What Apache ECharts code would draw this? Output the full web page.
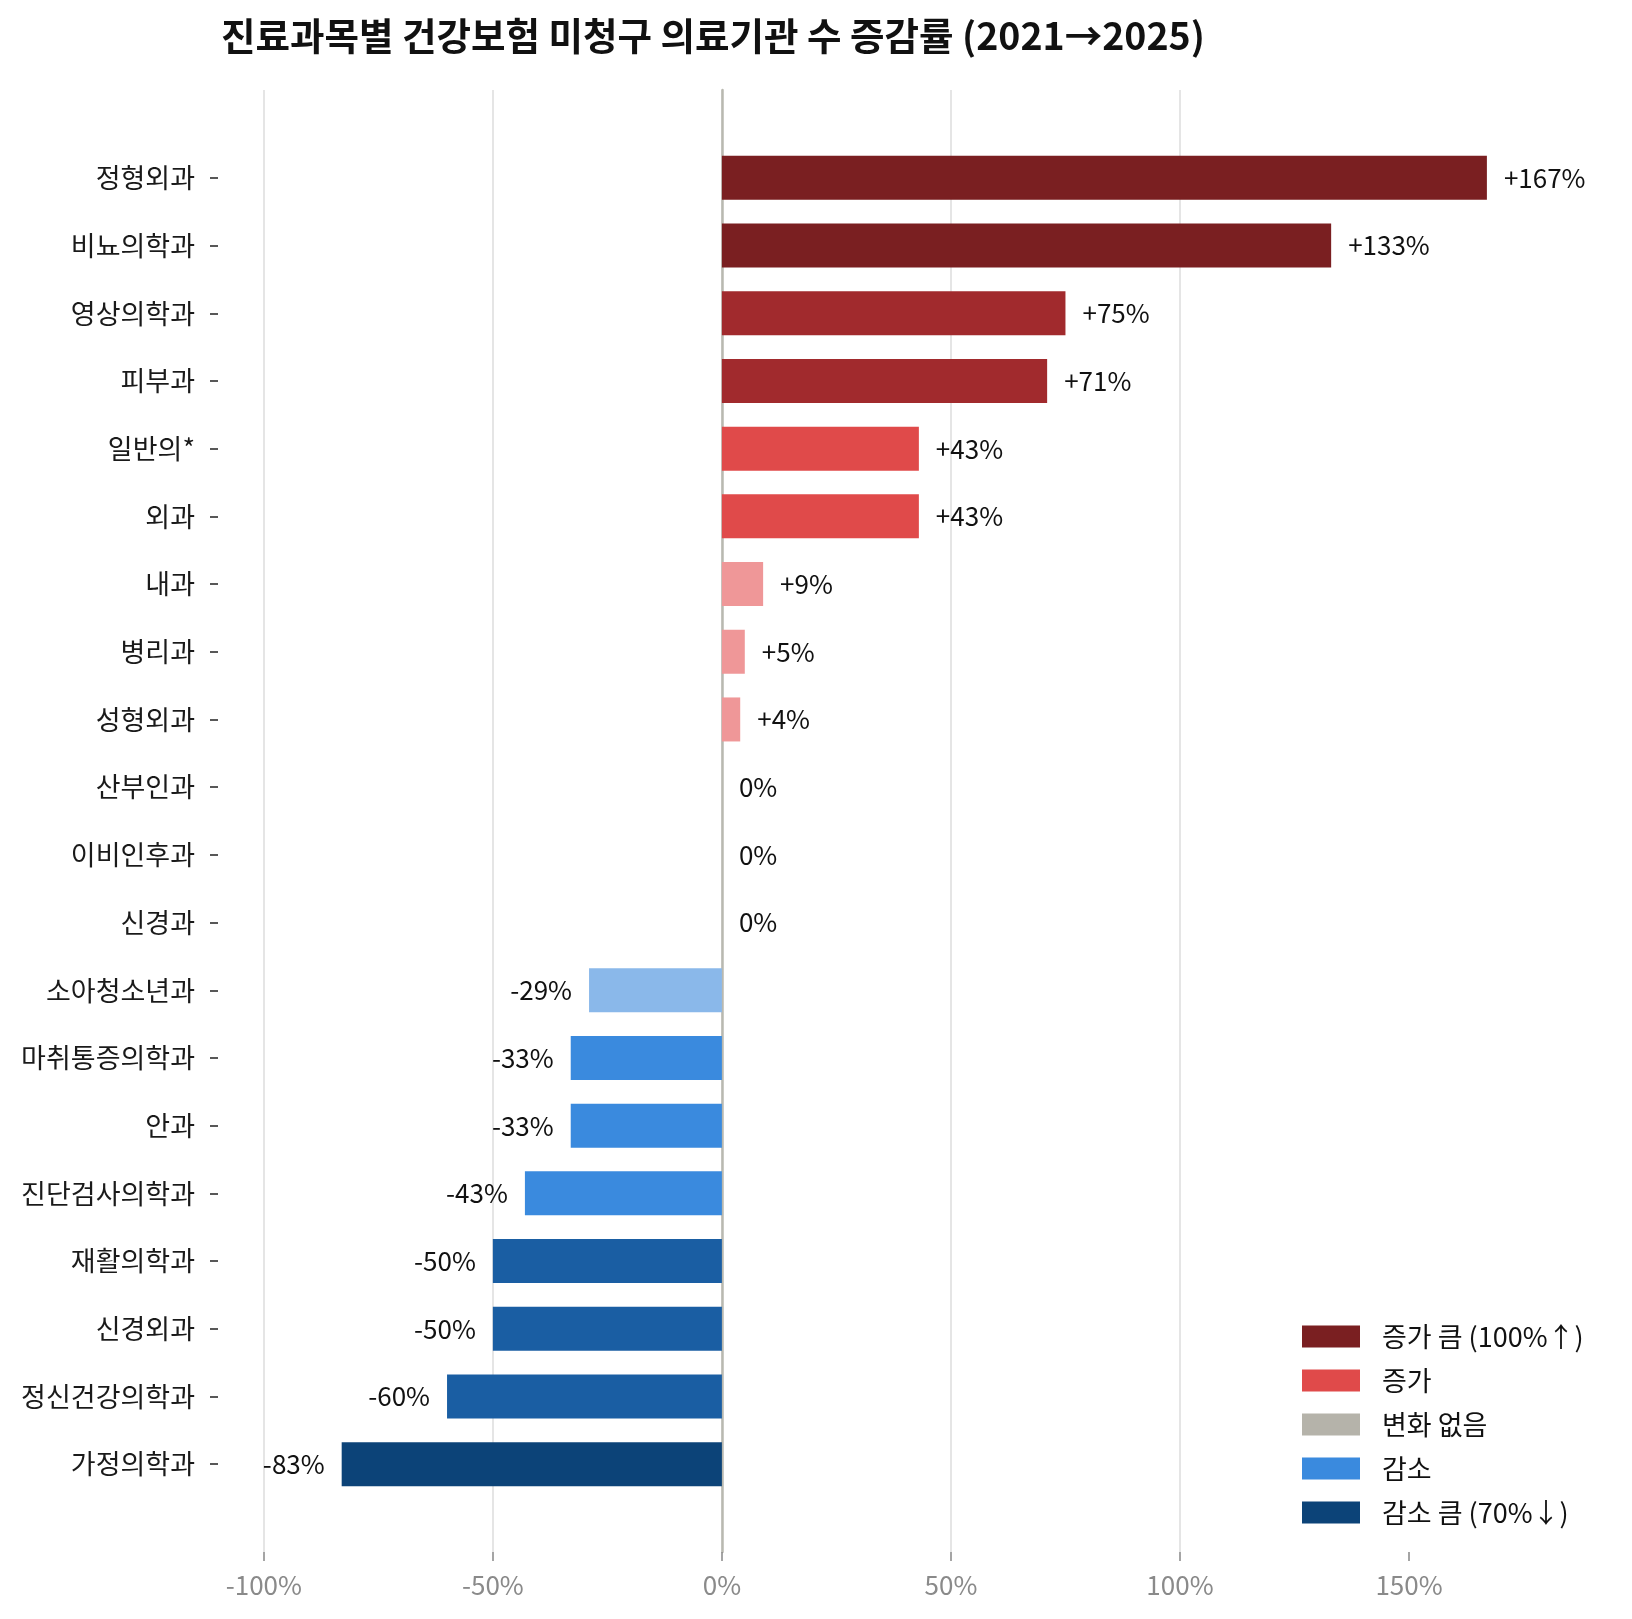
<!DOCTYPE html>
<html>
<head>
  <meta charset="utf-8">
  <title>진료과목별 증감률</title>
  <script src="https://cdn.jsdelivr.net/npm/echarts@6/dist/echarts.min.js"></script>
  <style>
    html, body { margin: 0; padding: 0; background: #fff; }
    #main { width: 1632px; height: 1619px; }
  </style>
</head>
<body>
<div id="main"></div>
<script type="text/javascript">
  // 진료과목 (위에서 아래 순서)
  var depts = ['정형외과', '비뇨의학과', '영상의학과', '피부과', '일반의*', '외과', '내과', '병리과', '성형외과',
    '산부인과', '이비인후과', '신경과', '소아청소년과', '마취통증의학과', '안과', '진단검사의학과',
    '재활의학과', '신경외과', '정신건강의학과', '가정의학과'];
  // 증감률 (%)
  var rates = [167, 133, 75, 71, 43, 43, 9, 5, 4, 0, 0, 0, -29, -33, -33, -43, -50, -50, -60, -83];
  var xTicks = [-100, -50, 0, 50, 100, 150];
  var legendNames = ['증가 큼 (100%↑)', '증가', '변화 없음', '감소', '감소 큼 (70%↓)'];
  var legendColors = ['#7a1f21', '#e04a4a', '#b5b3aa', '#3a8ade', '#0c4378'];

  var FONT = '"Noto Sans CJK KR", "Noto Sans", sans-serif';

  function colorFor(v) {
    if (v >= 100) return '#7a1f21';
    if (v >= 50) return '#a12a2d';
    if (v >= 20) return '#e04a4a';
    if (v > 0) return '#ef9798';
    if (v === 0) return '#b5b3aa';
    if (v > -30) return '#8ab8ea';
    if (v > -45) return '#3a8ade';
    if (v > -70) return '#1a5ea3';
    return '#0c4378';
  }

  var barData = rates.map(function (v) {
    return {
      value: v,
      itemStyle: { color: colorFor(v) },
      label: { position: v < 0 ? 'left' : 'right' }
    };
  });

  var myChart = echarts.init(document.getElementById('main'));

  // 범례용 빈 시리즈
  var legendSeries = legendNames.map(function (n, i) {
    return {
      type: 'line', name: n, xAxisIndex: 0, yAxisIndex: 0, data: [],
      itemStyle: { color: legendColors[i] }, lineStyle: { color: legendColors[i] }
    };
  });

  var option = {
    animation: false,
    backgroundColor: '#fff',
    textStyle: { fontFamily: FONT },
    title: {
      text: '진료과목별 건강보험 미청구 의료기관 수 증감률 (2021→2025)',
      left: 216, top: 12,
      textStyle: { fontFamily: FONT, fontSize: 37.5, fontWeight: 'bold', color: '#111' }
    },
    legend: {
      data: legendNames,
      orient: 'vertical',
      left: 1302, top: 1323,
      padding: 0,
      icon: 'rect',
      itemWidth: 58, itemHeight: 22, itemGap: 17,
      selectedMode: false,
      textStyle: { fontFamily: FONT, fontSize: 27, color: '#111', padding: [0, 0, 0, 17] }
    },
    grid: [
      { left: 218, right: 26, top: 90, bottom: 67 },
      { left: 218, right: 26, top: 144, bottom: 121 }
    ],
    xAxis: [
      {
        type: 'value', gridIndex: 0, min: -110, max: 193,
        axisLine: { show: false },
        axisTick: { show: true, length: 9, customValues: xTicks, lineStyle: { color: '#888', width: 1.5 } },
        axisLabel: {
          customValues: xTicks, margin: 20,
          fontFamily: FONT, fontSize: 26, color: '#8a8a8a',
          formatter: function (v) { return v + '%'; }
        },
        splitLine: { show: true, showMinLine: true, showMaxLine: false, lineStyle: { color: '#dcdcdc', width: 1.5 } },
        interval: 50
      },
      {
        type: 'value', gridIndex: 1, min: -110, max: 193,
        axisLine: { show: false }, axisTick: { show: false }, axisLabel: { show: false }, splitLine: { show: false }
      }
    ],
    yAxis: [
      {
        type: 'value', gridIndex: 0, min: 0, max: 1,
        axisLine: { show: true, onZero: true, lineStyle: { color: '#b9b9b0', width: 2.5 } },
        axisTick: { show: false }, axisLabel: { show: false }, splitLine: { show: false }
      },
      {
        type: 'category', gridIndex: 1, data: depts, inverse: true,
        axisLine: { show: false, onZero: false },
        axisTick: { show: true, length: 8, alignWithLabel: true, lineStyle: { color: '#222', width: 1.5 } },
        axisLabel: { margin: 23, fontFamily: FONT, fontSize: 27, color: '#1a1a1a' }
      }
    ],
    series: legendSeries.concat([{
      type: 'bar',
      name: '증감률',
      xAxisIndex: 1, yAxisIndex: 1,
      data: barData,
      barCategoryGap: '35%',
      z: 3,
      label: {
        show: true, distance: 17,
        fontFamily: FONT, fontSize: 26, color: '#111',
        formatter: function (p) { return (p.value > 0 ? '+' : '') + p.value + '%'; }
      }
    }])
  };
  myChart.setOption(option);
</script>
</body>
</html>
